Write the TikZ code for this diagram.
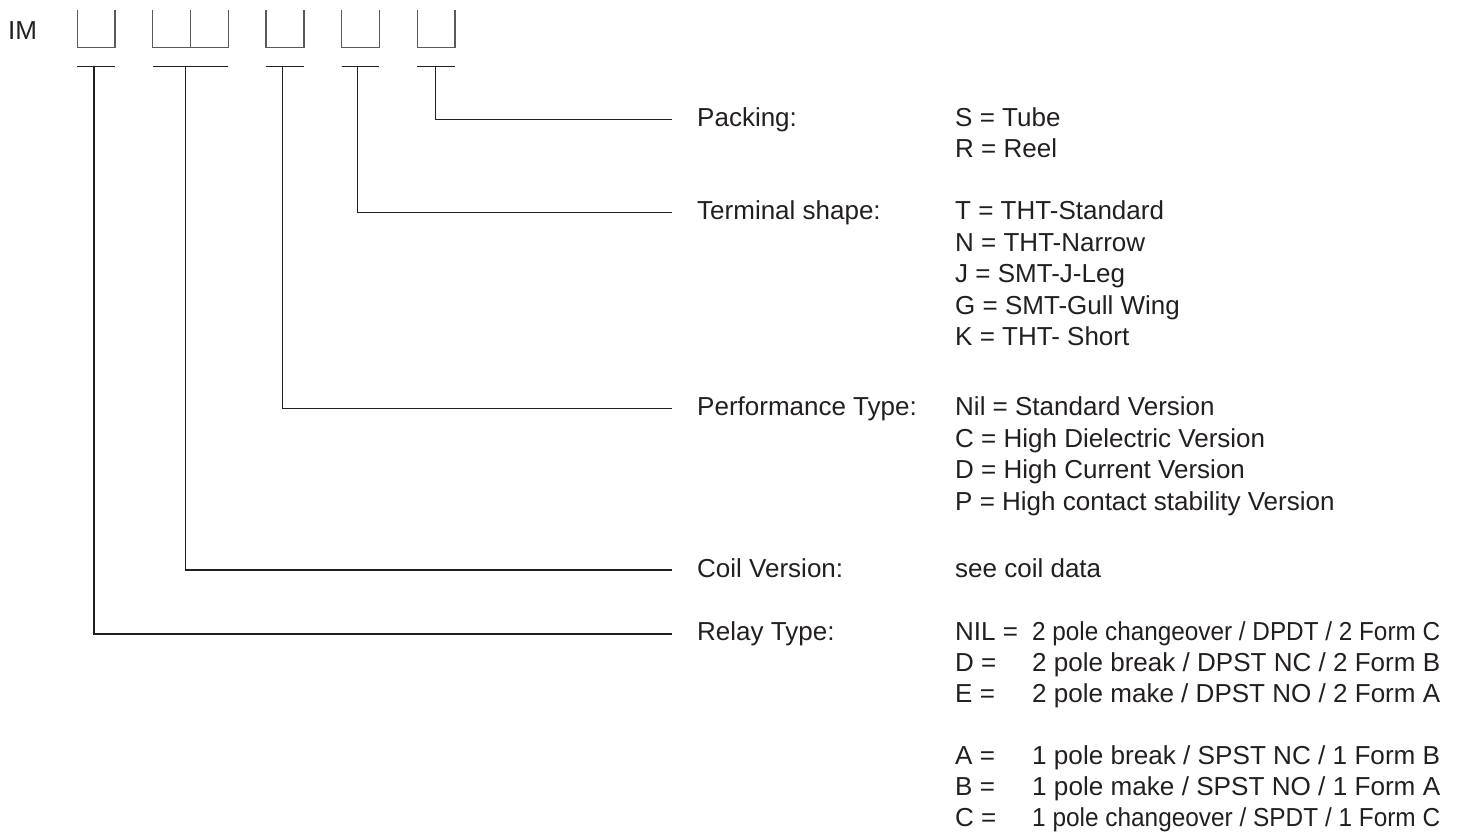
\documentclass[tikz,border=0pt]{standalone}
\usepackage{fontspec}
\usepackage{graphicx}
\setmainfont{Liberation Sans}
\definecolor{ink}{HTML}{231F20}
\definecolor{boxline}{HTML}{5A5A5A}
\newcommand\fitline[1]{\resizebox{408pt}{\height}{#1}}
\begin{document}
\begin{tikzpicture}[x=1pt,y=-1pt,
  txt/.style={inner sep=0pt,anchor=base west,text=ink,font=\fontsize{26}{26}\selectfont},
  slot/.style={draw=boxline,line width=1.1pt},
  leader/.style={draw=ink,line width=1.1pt},
  conn/.style={draw=ink,line width=1.1pt}]
\useasboundingbox (0,0) rectangle (1460,834);
% prefix
\node[txt] (im) at (8,40) {IM};
% slots
\draw[slot] (77.3,10) -- (77.3,47.7) -- (115,47.7) -- (115,10);
\draw[slot] (152.7,10) -- (152.7,47.7) -- (228.3,47.7) -- (228.3,10);
\draw[slot] (190.7,10) -- (190.7,47.7);
\draw[slot] (266,10) -- (266,47.7) -- (304,47.7) -- (304,10);
\draw[slot] (341.7,10) -- (341.7,47.7) -- (379.3,47.7) -- (379.3,10);
\draw[slot] (417.3,10) -- (417.3,47.7) -- (455,47.7) -- (455,10);
% underlines
\draw[leader] (77.3,66.7) -- (115,66.7);
\draw[leader] (152.7,66.7) -- (228.3,66.7);
\draw[leader] (266,66.7) -- (304,66.7);
\draw[leader] (341.7,66.7) -- (379.3,66.7);
\draw[leader] (417.3,66.7) -- (455,66.7);
% stem tops
\coordinate (s1) at (94,66.7);
\coordinate (s2) at (185.7,66.7);
\coordinate (s3) at (282.7,66.7);
\coordinate (s4) at (357.3,66.7);
\coordinate (s5) at (435.3,66.7);
% line ends
\coordinate (e5) at (672,119.5);
\coordinate (e4) at (672,212.5);
\coordinate (e3) at (672,408.5);
\coordinate (e2) at (672,570);
\coordinate (e1) at (672,634);
\draw[conn] (s5) |- (e5);
\draw[conn] (s4) |- (e4);
\draw[conn] (s3) |- (e3);
\draw[conn] (s2) |- (e2);
\draw[conn] (s1) |- (e1);
% Packing
\node[txt] (lpack) at (697,126.5) {Packing:};
\node[txt] (vpack1) at (955,126.5) {S = Tube};
\node[txt] (vpack2) at (955,157.5) {R = Reel};
% Terminal shape
\node[txt] (lterm) at (697,220) {Terminal shape:};
\node[txt] (vterm1) at (955,220) {T = THT-Standard};
\node[txt] (vterm2) at (955,251.5) {N = THT-Narrow};
\node[txt] (vterm3) at (955,283) {J = SMT-J-Leg};
\node[txt] (vterm4) at (955,314.5) {G = SMT-Gull Wing};
\node[txt] (vterm5) at (955,346) {K = THT- Short};
% Performance
\node[txt] (lperf) at (697,415.5) {Performance Type:};
\node[txt] (vperf1) at (955,415.5) {Nil = Standard Version};
\node[txt] (vperf2) at (955,447) {C = High Dielectric Version};
\node[txt] (vperf3) at (955,478.5) {D = High Current Version};
\node[txt] (vperf4) at (955,510) {P = High contact stability Version};
% Coil
\node[txt] (lcoil) at (697,577) {Coil Version:};
\node[txt] (vcoil) at (955,577) {see coil data};
% Relay type
\node[txt] (lrel) at (697,640.5) {Relay Type:};
\node[txt] (kr1) at (955,640.5) {NIL =};
\node[txt] (dr1) at (1032,640.5) {\fitline{2 pole changeover / DPDT / 2 Form C}};
\node[txt] (kr2) at (955,671.5) {D =};
\node[txt] (dr2) at (1032,671.5) {\fitline{2 pole break / DPST NC / 2 Form B}};
\node[txt] (kr3) at (955,702.5) {E =};
\node[txt] (dr3) at (1032,702.5) {\fitline{2 pole make / DPST NO / 2 Form A}};
\node[txt] (kr4) at (955,764.5) {A =};
\node[txt] (dr4) at (1032,764.5) {\fitline{1 pole break / SPST NC / 1 Form B}};
\node[txt] (kr5) at (955,795.5) {B =};
\node[txt] (dr5) at (1032,795.5) {\fitline{1 pole make / SPST NO / 1 Form A}};
\node[txt] (kr6) at (955,826.5) {C =};
\node[txt] (dr6) at (1032,826.5) {\fitline{1 pole changeover / SPDT / 1 Form C}};
\end{tikzpicture}
\end{document}
